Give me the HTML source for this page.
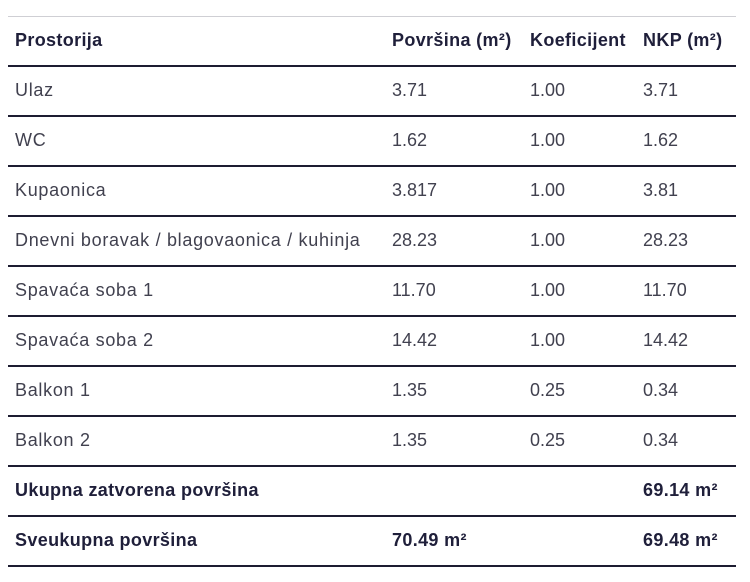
<!DOCTYPE html>
<html>
<head>
<meta charset="utf-8">
<style>
  html,body{margin:0;padding:0;background:#fff;}
  body{width:750px;height:582px;position:relative;overflow:hidden;font-family:"Liberation Sans",sans-serif;}
  .ln{position:absolute;left:8px;width:728px;height:2px;background:#1d1c31;}
  .top{position:absolute;left:8px;width:728px;top:16px;height:1px;background:#cfcfd4;}
  .c{position:absolute;height:50px;line-height:50px;white-space:nowrap;font-size:18px;margin-top:-1px;}
  .h{font-weight:bold;color:#1f1f3a;letter-spacing:0.35px;}
  .b{color:#41414f;letter-spacing:0.7px;}
  .n{letter-spacing:0;}
  .c1{left:15px;}
  .c2{left:392px;}
  .c3{left:530px;}
  .c4{left:643px;}
</style>
</head>
<body>
<div class="top"></div>
<div class="ln" style="top:65px"></div>
<div class="ln" style="top:115px"></div>
<div class="ln" style="top:165px"></div>
<div class="ln" style="top:215px"></div>
<div class="ln" style="top:265px"></div>
<div class="ln" style="top:315px"></div>
<div class="ln" style="top:365px"></div>
<div class="ln" style="top:415px"></div>
<div class="ln" style="top:465px"></div>
<div class="ln" style="top:515px"></div>
<div class="ln" style="top:565px"></div>

<!-- header -->
<div class="c h c1" style="top:16px">Prostorija</div>
<div class="c h c2" style="top:16px">Površina (m²)</div>
<div class="c h c3" style="top:16px">Koeficijent</div>
<div class="c h c4" style="top:16px">NKP (m²)</div>

<div class="c b c1" style="top:66px">Ulaz</div>
<div class="c b n c2" style="top:66px">3.71</div>
<div class="c b n c3" style="top:66px">1.00</div>
<div class="c b n c4" style="top:66px">3.71</div>

<div class="c b c1" style="top:116px">WC</div>
<div class="c b n c2" style="top:116px">1.62</div>
<div class="c b n c3" style="top:116px">1.00</div>
<div class="c b n c4" style="top:116px">1.62</div>

<div class="c b c1" style="top:166px">Kupaonica</div>
<div class="c b n c2" style="top:166px">3.817</div>
<div class="c b n c3" style="top:166px">1.00</div>
<div class="c b n c4" style="top:166px">3.81</div>

<div class="c b c1" style="top:216px">Dnevni boravak / blagovaonica / kuhinja</div>
<div class="c b n c2" style="top:216px">28.23</div>
<div class="c b n c3" style="top:216px">1.00</div>
<div class="c b n c4" style="top:216px">28.23</div>

<div class="c b c1" style="top:266px">Spavaća soba 1</div>
<div class="c b n c2" style="top:266px">11.70</div>
<div class="c b n c3" style="top:266px">1.00</div>
<div class="c b n c4" style="top:266px">11.70</div>

<div class="c b c1" style="top:316px">Spavaća soba 2</div>
<div class="c b n c2" style="top:316px">14.42</div>
<div class="c b n c3" style="top:316px">1.00</div>
<div class="c b n c4" style="top:316px">14.42</div>

<div class="c b c1" style="top:366px">Balkon 1</div>
<div class="c b n c2" style="top:366px">1.35</div>
<div class="c b n c3" style="top:366px">0.25</div>
<div class="c b n c4" style="top:366px">0.34</div>

<div class="c b c1" style="top:416px">Balkon 2</div>
<div class="c b n c2" style="top:416px">1.35</div>
<div class="c b n c3" style="top:416px">0.25</div>
<div class="c b n c4" style="top:416px">0.34</div>

<div class="c h c1" style="top:466px">Ukupna zatvorena površina</div>
<div class="c h c4" style="top:466px">69.14 m²</div>

<div class="c h c1" style="top:516px">Sveukupna površina</div>
<div class="c h c2" style="top:516px">70.49 m²</div>
<div class="c h c4" style="top:516px">69.48 m²</div>
</body>
</html>
